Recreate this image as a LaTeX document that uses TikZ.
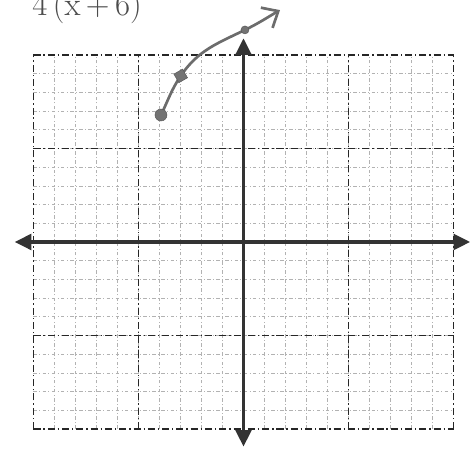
\documentclass[tikz,border=0pt]{standalone}
\usetikzlibrary{arrows.meta}
\begin{document}
\begin{tikzpicture}[x=0.63cm,y=0.561cm,
  minor/.style={gray!60,line width=0.5pt,dash pattern=on 3pt off 2pt on 0.8pt off 2pt},
  major/.style={black!85,line width=1.6pt,dash pattern=on 6pt off 2.5pt on 1.2pt off 2.5pt},
  axis/.style={black!80,line width=3.4pt,{Triangle[length=5mm,width=4.6mm]}-{Triangle[length=5mm,width=4.6mm]}},
  pt/.style={fill=gray!90!black,draw=gray!70!black,inner sep=0pt}]

\useasboundingbox (-11.595,-11.07) rectangle (10.833,12.94);

% grid
\foreach \k in {-9,...,9} {
  \draw[minor] (\k,-10) -- (\k,10);
  \draw[minor] (-10,\k) -- (10,\k);
}
\foreach \k in {-10,-5,5,10} {
  \draw[major] (\k,-10) -- (\k,10);
  \draw[major] (-10,\k) -- (10,\k);
}

% axes
\coordinate (xl) at (-10.9,0);
\coordinate (xr) at (10.8,0);
\coordinate (yb) at (0,-10.95);
\coordinate (yt) at (0,10.9);
\draw[axis] (xl) -- (xr);
\draw[axis] (yb) -- (yt);

% curve
\coordinate (p1) at (-3.93,6.79);
\coordinate (p2) at (-2.99,8.88);
\coordinate (p3) at (0.07,11.34);
\coordinate (tip) at (1.74,12.4);
\draw[gray!85!black,line width=2.3pt,line cap=round,-{Straight Barb[length=4mm,width=7mm]}]
  (p1) to[out=64,in=236] (p2) to[out=56,in=206] (p3) to[out=26,in=210] (tip);

\node (a) [pt,circle,minimum size=3.6mm] at (p1) {};
\node (b) [pt,rectangle,rotate=30,minimum size=3mm] at (p2) {};
\node (c) [pt,circle,minimum size=2.4mm] at (p3) {};

\node (lbl) [anchor=base,gray!60!black,font=\fontsize{28}{28}\selectfont] at (-7.45,12.09) {4\,(x\,+\,6)};

\end{tikzpicture}
\end{document}
